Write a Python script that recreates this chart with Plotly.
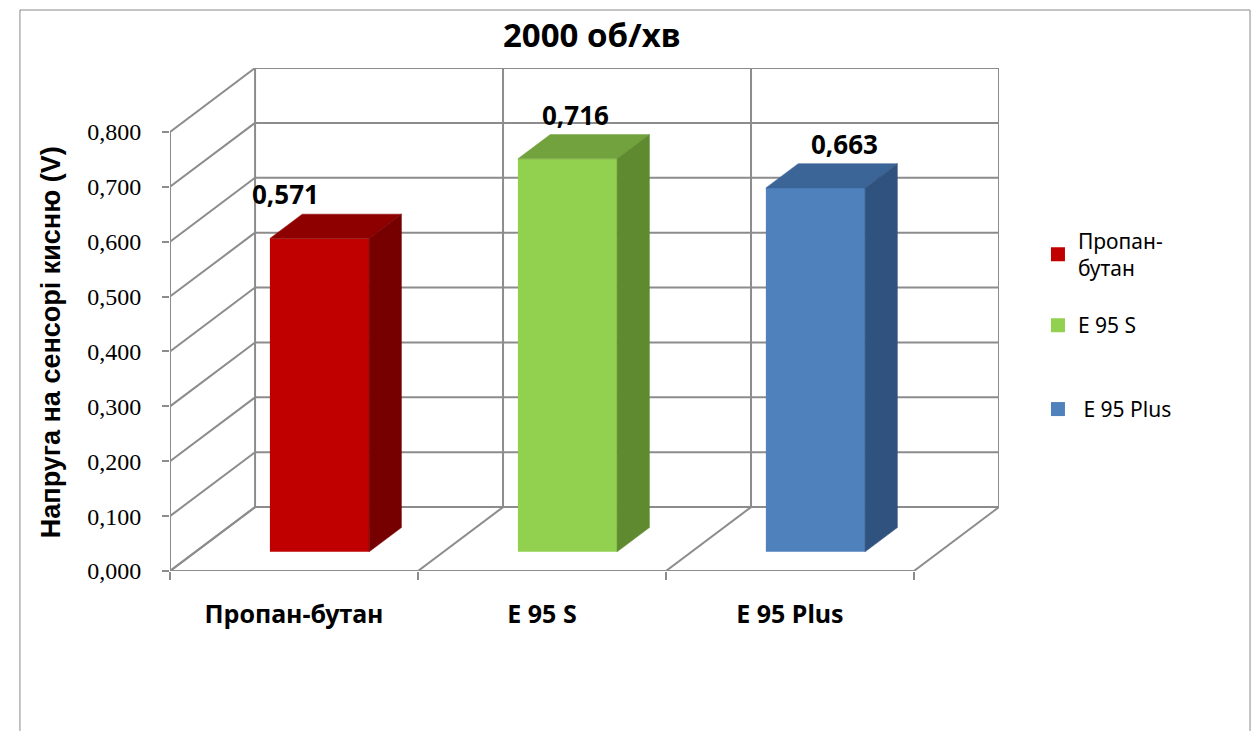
import plotly.graph_objects as go

# ---- data -------------------------------------------------------------
categories = ["Пропан-бутан", "E 95 S", "E 95 Plus"]
legend_names = ["Пропан-<br>бутан", "E 95 S", " E 95 Plus"]
voltages = [0.571, 0.716, 0.663]
y_ticks = [0.0, 0.1, 0.2, 0.3, 0.4, 0.5, 0.6, 0.7, 0.8]
y_tick_text = ["0,000", "0,100", "0,200", "0,300", "0,400",
               "0,500", "0,600", "0,700", "0,800"]

# ---- styling ----------------------------------------------------------
front_colors = ["#C00000", "#92D050", "#4F81BD"]
top_colors = ["#8E0000", "#72A23E", "#3C6597"]
side_colors = ["#760000", "#5F8A30", "#30527E"]
GRID = "#8C8C8C"
SANS = "Noto Sans"
SERIF = "Times New Roman"

# oblique projection of the depth axis, in axis units
DX, DY = 0.343, 0.1164
F0, F1 = 0.30, 0.68        # front / back of each bar along the depth
BAR_W = 0.40
label_xshift = [-34, 8, 29]

n = len(categories)
y_top = y_ticks[-1]

fig = go.Figure()

# ---- walls and floor of the 3D box -------------------------------------
shapes = []


def seg(x0, y0, x1, y1):
    shapes.append(dict(type="line", xref="x", yref="y", layer="below",
                       x0=x0, y0=y0, x1=x1, y1=y1,
                       line=dict(color=GRID, width=2)))


for v in y_ticks:
    seg(DX, v + DY, n + DX, v + DY)          # back wall gridline
    seg(0, v, DX, v + DY)                    # side wall gridline
for k in range(n + 1):
    seg(k + DX, DY, k + DX, y_top + DY)      # back wall verticals
    seg(k, 0, k + DX, DY)                    # floor lines
seg(0, 0, 0, y_top)                          # front value axis
seg(0, 0, n, 0)                              # front category axis

# chart frame
shapes.append(dict(type="rect", xref="paper", yref="paper",
                   x0=-0.181, x1=1.3028, y0=-0.40, y1=1.1153,
                   line=dict(color="#898989", width=1), layer="below"))

# ---- bars ---------------------------------------------------------------
for i, v in enumerate(voltages):
    xc = i + 0.5
    xl, xr = xc - BAR_W / 2, xc + BAR_W / 2
    # front face
    fig.add_trace(go.Bar(
        x=[xc + F0 * DX], y=[v], base=[F0 * DY], width=BAR_W,
        marker=dict(color=front_colors[i], line=dict(width=0)),
        showlegend=False, hoverinfo="skip"))
    # top face
    fig.add_trace(go.Scatter(
        x=[xl + F0 * DX, xr + F0 * DX, xr + F1 * DX, xl + F1 * DX, xl + F0 * DX],
        y=[v + F0 * DY, v + F0 * DY, v + F1 * DY, v + F1 * DY, v + F0 * DY],
        fill="toself", fillcolor=top_colors[i], mode="lines",
        line=dict(color=top_colors[i], width=0.5),
        showlegend=False, hoverinfo="skip"))
    # right face
    fig.add_trace(go.Scatter(
        x=[xr + F0 * DX, xr + F1 * DX, xr + F1 * DX, xr + F0 * DX, xr + F0 * DX],
        y=[F0 * DY, F1 * DY, v + F1 * DY, v + F0 * DY, F0 * DY],
        fill="toself", fillcolor=side_colors[i], mode="lines",
        line=dict(color=side_colors[i], width=0.5),
        showlegend=False, hoverinfo="skip"))
    # legend swatch
    fig.add_trace(go.Scatter(
        x=[None], y=[None], mode="markers", name=legend_names[i],
        marker=dict(symbol="square", size=14, color=front_colors[i]),
        legend="legend2" if i == 2 else "legend",
        legendgroup=str(i)))

# ---- value labels -------------------------------------------------------
annotations = []
for i, v in enumerate(voltages):
    annotations.append(dict(
        x=i + 0.5 + F0 * DX, y=v + F1 * DY, xref="x", yref="y",
        text="<b>" + f"{v:.3f}".replace(".", ",") + "</b>",
        showarrow=False, xshift=label_xshift[i], yshift=20,
        yanchor="middle", font=dict(family=SANS, size=26, color="black")))

annotations.append(dict(
    x=-0.1435, y=0.455, xref="paper", yref="paper",
    text="<b>Напруга на сенсорі кисню (V)</b>", textangle=-90,
    showarrow=False, xanchor="center", yanchor="middle",
    font=dict(family="Liberation Sans", size=27, color="black")))

fig.update_layout(
    width=1259, height=731,
    margin=dict(l=170, r=260, t=68, b=160, pad=0),
    paper_bgcolor="white", plot_bgcolor="white",
    barmode="overlay",
    title=dict(text="<b>2000 об/хв</b>", x=0.47, y=0.951,
               xref="container", yref="container",
               xanchor="center", yanchor="middle",
               font=dict(family=SANS, size=33, color="black")),
    xaxis=dict(range=[0, n + DX], showgrid=False, zeroline=False,
               showline=False, tickmode="array",
               tickvals=[i + 0.5 for i in range(n)], ticktext=categories,
               ticks="", ticklabelstandoff=26,
               tickfont=dict(family=SANS, size=25, color="black",
                             weight="bold"),
               minor=dict(tickmode="array", tickvals=list(range(n + 1)),
                          ticks="outside", ticklen=8, tickwidth=2,
                          tickcolor=GRID, showgrid=False)),
    yaxis=dict(range=[0, y_top + DY], showgrid=False, zeroline=False,
               showline=False, tickmode="array", tickvals=y_ticks,
               ticktext=y_tick_text, ticks="outside", ticklen=7,
               tickwidth=2, tickcolor=GRID, ticklabelstandoff=16,
               tickfont=dict(family=SERIF, size=24, color="black")),
    legend=dict(x=1.047, y=0.697, xanchor="left", yanchor="top",
                tracegroupgap=27, itemwidth=30,
                font=dict(family=SANS, size=21, color="black"),
                bgcolor="rgba(0,0,0,0)"),
    legend2=dict(x=1.047, y=0.362, xanchor="left", yanchor="top",
                 itemwidth=30,
                 font=dict(family=SANS, size=21, color="black"),
                 bgcolor="rgba(0,0,0,0)"),
    shapes=shapes,
    annotations=annotations,
)

fig.write_html("out.html")
